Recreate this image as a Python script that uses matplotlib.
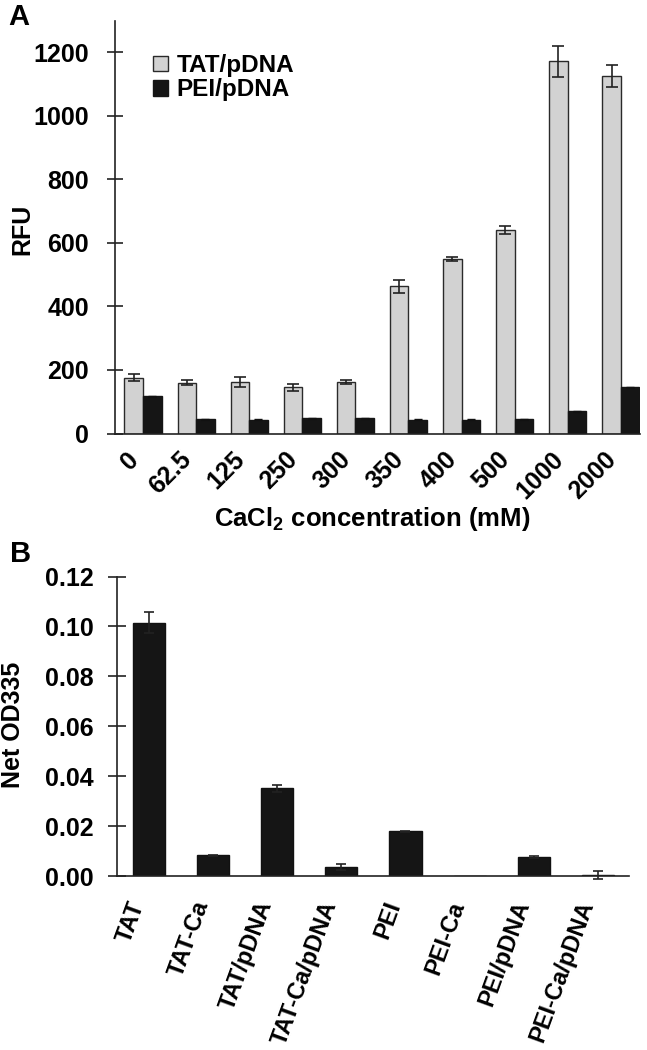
import matplotlib
matplotlib.use("Agg")
import matplotlib.pyplot as plt
import matplotlib.transforms as mtransforms
import numpy as np

plt.rcParams['font.family'] = ['Liberation Sans', 'DejaVu Sans']
plt.rcParams['font.weight'] = 'bold'
plt.rcParams['mathtext.fontset'] = 'custom'
plt.rcParams['mathtext.rm'] = 'Liberation Sans:bold'
plt.rcParams['mathtext.bf'] = 'Liberation Sans:bold'
plt.rcParams['mathtext.default'] = 'bf'

# ---- Panel A data ----
conc_labels = ['0', '62.5', '125', '250', '300', '350', '400', '500', '1000', '2000']
tat_pdna = [176, 160, 162, 145, 162, 463, 549, 641, 1172, 1127]
tat_pdna_err = [11, 7, 17, 10, 5, 19, 7, 13, 48, 35]
pei_pdna = [117, 45, 44, 48, 48, 44, 44, 45, 70, 146]
pei_pdna_err = [2, 2, 1, 1, 1, 1, 1, 1, 2, 2]
a_yticks = [0, 200, 400, 600, 800, 1000, 1200]

# ---- Panel B data ----
b_labels = ['TAT', 'TAT-Ca', 'TAT/pDNA', 'TAT-Ca/pDNA', 'PEI', 'PEI-Ca', 'PEI/pDNA', 'PEI-Ca/pDNA']
net_od = [0.1015, 0.0083, 0.0352, 0.0036, 0.0180, 0.0, 0.0077, 0.0003]
net_od_err = [0.0042, 0.0003, 0.0013, 0.0012, 0.0002, np.nan, 0.0003, 0.0016]
b_yticks = [0.00, 0.02, 0.04, 0.06, 0.08, 0.10, 0.12]

W, H = 647, 1050
fig = plt.figure(figsize=(W / 100, H / 100), dpi=100)

FS = 18
spine_c = '#222222'

# ================= Panel A =================
axA = fig.add_axes([114.5 / W, 1 - 433.5 / H, (640 - 114.5) / W, (433.5 - 20.7) / H])
x = np.arange(len(conc_labels))
bw = 0.35
axA.bar(x - bw, tat_pdna, width=bw, align='edge', color='#d2d2d2',
        edgecolor='#2a2a2a', linewidth=1.0, label='TAT/pDNA', zorder=2)
axA.bar(x, pei_pdna, width=bw, align='edge', color='#151515',
        edgecolor='#151515', linewidth=1.0, label='PEI/pDNA', zorder=2)
axA.errorbar(x - bw / 2, tat_pdna, yerr=tat_pdna_err, fmt='none', ecolor='#222222',
             elinewidth=1.2, capsize=4.5, capthick=1.2, zorder=3)
axA.errorbar(x + bw / 2, pei_pdna, yerr=pei_pdna_err, fmt='none', ecolor='#111111',
             elinewidth=1.0, capsize=3, capthick=1.0, zorder=3)
axA.set_xlim(-0.537, 9.36)
axA.set_ylim(0, 1300)
axA.set_yticks(a_yticks)
axA.set_yticklabels([str(v) for v in a_yticks], fontsize=FS, fontweight='bold')
axA.set_xticks(x)
axA.set_xticklabels(conc_labels, fontsize=FS, fontweight='bold', rotation=45,
                    ha='right', va='top')
offA = mtransforms.ScaledTranslation(-13 / 100, 0, fig.dpi_scale_trans)
for lab in axA.get_xticklabels():
    lab.set_transform(lab.get_transform() + offA)
axA.tick_params(axis='x', length=0, pad=10)
axA.tick_params(axis='y', direction='inout', length=12, width=1.2, pad=12.5, color=spine_c)
for s in ['top', 'right']:
    axA.spines[s].set_visible(False)
for s in ['left', 'bottom']:
    axA.spines[s].set_linewidth(1.2)
    axA.spines[s].set_color(spine_c)
axA.set_xlabel(r'CaCl$_{\mathbf{2}}$ concentration (mM)', fontsize=18.5, fontweight='bold')
axA.xaxis.set_label_coords((371.7 - 114.5) / (640 - 114.5), -(505 - 433.5) / (433.5 - 20.7))
fig.text(22 / W, 1 - 229 / H, 'RFU', rotation=90, ha='center', va='center',
         fontsize=FS, fontweight='bold')
leg = axA.legend(loc='upper left', bbox_to_anchor=(153 / W, 1 - 54 / H),
                 bbox_transform=fig.transFigure, frameon=False, fontsize=17.5,
                 handlelength=0.62, handleheight=0.62, handletextpad=0.36,
                 labelspacing=0.05, borderpad=0, borderaxespad=0)
for t in leg.get_texts():
    t.set_fontweight('bold')
fig.text(8 / W, 1 - 3 / H, 'A', fontsize=21, fontweight='bold', ha='left', va='top')

# ================= Panel B =================
axB = fig.add_axes([116.7 / W, 1 - 876.2 / H, (629.3 - 116.7) / W, (876.2 - 576.5) / H])
xb = np.arange(len(b_labels))
axB.bar(xb, net_od, width=0.5, color='#151515', edgecolor='#111111', linewidth=1.0, zorder=2)
axB.errorbar(xb, net_od, yerr=net_od_err, fmt='none', ecolor='#222222',
             elinewidth=1.2, capsize=3.3, capthick=1.2, zorder=3, clip_on=False)
axB.set_xlim(-0.503, 7.49)
axB.set_ylim(0, 0.12)
axB.set_yticks(b_yticks)
axB.set_yticklabels(['%.2f' % v for v in b_yticks], fontsize=FS, fontweight='bold')
axB.set_xticks(xb)
axB.set_xticklabels(b_labels, fontsize=17, fontweight='bold',
                    rotation=70, ha='right', va='top')
offB = mtransforms.ScaledTranslation(4 / 100, 0, fig.dpi_scale_trans)
for lab in axB.get_xticklabels():
    lab.set_transform(lab.get_transform() + offB)
axB.tick_params(axis='x', length=0, pad=15.5)
axB.tick_params(axis='y', direction='inout', length=13, width=1.2, pad=10, color=spine_c)
for s in ['top', 'right']:
    axB.spines[s].set_visible(False)
for s in ['left', 'bottom']:
    axB.spines[s].set_linewidth(1.2)
    axB.spines[s].set_color(spine_c)
fig.text(13 / W, 1 - 725 / H, 'Net OD335', rotation=90, ha='center', va='center',
         fontsize=FS, fontweight='bold')
fig.text(10 / W, 1 - 540 / H, 'B', fontsize=21, fontweight='bold', ha='left', va='top')

fig.savefig('out.png', dpi=100)
